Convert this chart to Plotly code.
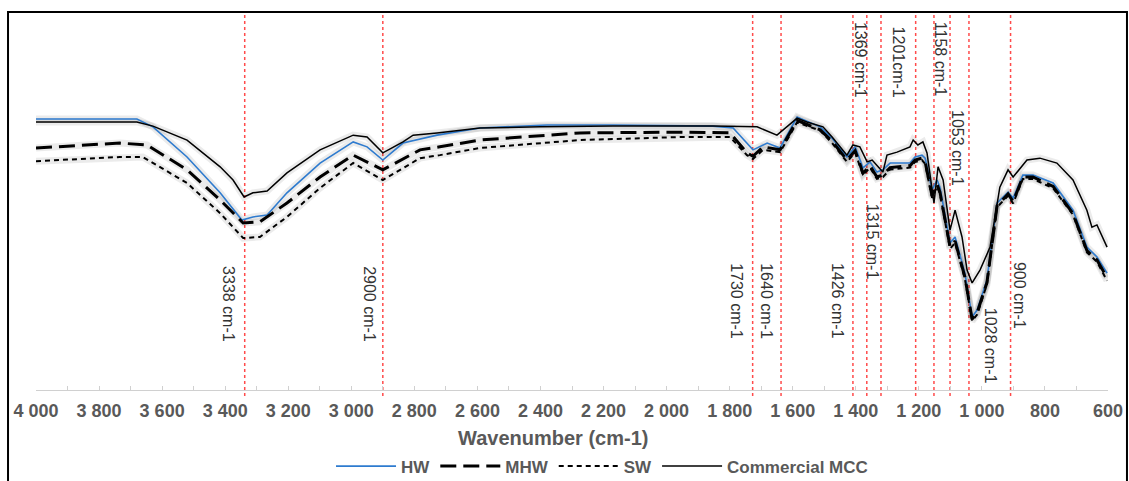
import plotly.graph_objects as go

# ---------------- data (wavenumber cm-1, transmittance %) ----------------
hw_x = [4000, 3680, 3629, 3521, 3416, 3347, 3312, 3267, 3204, 3099, 2994, 2950, 2900,
        2836, 2728, 2592, 2379, 2170, 1853, 1789, 1726, 1681, 1640, 1586, 1513, 1475,
        1428, 1402, 1377, 1355, 1333, 1314, 1291, 1228, 1212, 1190, 1180, 1158, 1142,
        1133, 1101, 1085, 1054, 1031, 1015, 984, 952, 917, 901, 870, 838, 774, 711,
        667, 635, 603]
hw_y = [71.9, 71.9, 69.8, 61.8, 52.3, 45.1, 45.9, 46.4, 52.3, 60.2, 65.8, 64.5, 61.0,
        65.5, 67.6, 69.5, 70.3, 70.3, 70.0, 69.5, 63.7, 65.5, 64.2, 72.4, 69.8, 66.8,
        61.8, 64.5, 58.9, 60.5, 57.8, 58.4, 60.2, 60.2, 61.8, 62.3, 61.5, 53.1, 55.7,
        53.8, 39.0, 40.6, 31.0, 19.4, 21.2, 29.2, 49.6, 52.5, 50.9, 57.0, 57.0, 54.9,
        47.7, 37.9, 35.3, 31.0]

mhw_x = [4000, 3734, 3648, 3521, 3416, 3343, 3290, 3204, 3099, 2994, 2900, 2782, 2719,
         2592, 2275, 1957, 1799, 1745, 1726, 1694, 1640, 1586, 1513, 1475, 1428, 1402,
         1377, 1355, 1333, 1314, 1291, 1228, 1212, 1190, 1180, 1158, 1142, 1133, 1101,
         1085, 1054, 1031, 1015, 984, 952, 917, 901, 870, 838, 774, 711, 667, 635, 603]
mhw_y = [64.2, 65.5, 65.0, 58.4, 50.4, 44.3, 44.6, 49.6, 56.5, 62.3, 58.4, 63.7, 64.5,
         66.3, 68.2, 68.4, 68.2, 62.9, 62.0, 64.5, 63.7, 71.5, 69.0, 66.0, 61.0, 63.5,
         57.5, 59.5, 56.5, 57.0, 59.0, 59.5, 61.0, 61.5, 60.5, 51.5, 54.5, 52.5, 38.0,
         39.5, 30.0, 18.8, 20.5, 28.5, 48.8, 52.0, 50.0, 56.5, 56.5, 54.0, 46.8, 37.0,
         34.5, 29.8]

sw_x = [4000, 3734, 3661, 3521, 3416, 3343, 3290, 3204, 3099, 2994, 2900, 2782, 2719,
        2592, 2275, 1957, 1799, 1745, 1726, 1694, 1640, 1586, 1513, 1475, 1428, 1402,
        1377, 1355, 1333, 1314, 1291, 1228, 1212, 1190, 1180, 1158, 1142, 1133, 1101,
        1085, 1054, 1031, 1015, 984, 952, 917, 901, 870, 838, 774, 711, 667, 635, 603]
sw_y = [60.7, 61.8, 61.8, 54.9, 46.9, 40.3, 40.6, 45.9, 53.6, 60.2, 55.7, 61.5, 62.3,
        64.2, 66.3, 67.1, 67.1, 62.3, 61.3, 63.7, 63.1, 71.0, 68.8, 65.5, 60.5, 63.0,
        57.0, 59.0, 56.0, 56.5, 58.5, 59.0, 60.5, 61.0, 60.0, 51.0, 54.0, 52.0, 37.5,
        39.0, 29.5, 18.3, 20.0, 28.0, 48.5, 51.5, 49.5, 56.0, 56.0, 53.5, 46.5, 36.5,
        34.0, 29.0]

mcc_x = [4000, 3680, 3629, 3521, 3416, 3375, 3340, 3312, 3267, 3204, 3099, 2994, 2950,
         2900, 2836, 2804, 2728, 2592, 2401, 2170, 1853, 1767, 1713, 1650, 1586, 1555,
         1504, 1475, 1450, 1428, 1409, 1387, 1364, 1348, 1329, 1314, 1301, 1269, 1228,
         1218, 1203, 1187, 1174, 1158, 1152, 1139, 1123, 1101, 1085, 1063, 1047, 1031,
         1006, 974, 943, 917, 901, 857, 816, 762, 711, 667, 651, 635, 603]
mcc_y = [71.1, 71.1, 70.0, 66.3, 59.2, 55.7, 51.2, 52.3, 52.8, 57.6, 63.7, 67.6, 67.1,
         62.9, 65.8, 67.6, 68.2, 69.5, 69.8, 70.0, 70.0, 69.8, 69.8, 67.6, 72.1, 71.1,
         69.8, 67.1, 64.5, 62.3, 65.0, 64.5, 60.5, 61.0, 59.2, 57.8, 62.3, 63.1, 64.5,
         66.3, 65.0, 65.8, 62.9, 53.8, 49.6, 59.2, 55.7, 42.4, 47.7, 40.6, 31.8, 28.4,
         31.8, 37.9, 53.8, 58.4, 56.5, 61.0, 61.5, 60.2, 55.7, 47.7, 43.2, 43.8, 37.9]

series_names = ["HW", "MHW", "SW", "Commercial MCC"]

# marked bands (drawn position, label text, label anchor)
band_lines = [3338, 2900, 1727, 1637, 1409, 1365, 1320, 1210, 1152, 1101, 1041, 909]
band_labels = ["3338 cm-1", "2900 cm-1", "1730 cm-1", "1640 cm-1", "1426 cm-1",
               "1315 cm-1", "1369 cm-1", "1201cm-1", "1158 cm-1", "1053 cm-1",
               "1028 cm-1", "900 cm-1"]
label_x = [3388, 2941, 1777, 1682, 1456, 1348, 1387, 1266, 1133, 1079, 974, 879]
label_y = [22.8, 22.8, 23.6, 23.6, 23.6, 39.3, 87.6, 87.1, 87.6, 64.2, 11.7, 25.2]

tick_vals = [4000, 3800, 3600, 3400, 3200, 3000, 2800, 2600, 2400, 2200, 2000,
             1800, 1600, 1400, 1200, 1000, 800, 600]
tick_text = ["4 000", "3 800", "3 600", "3 400", "3 200", "3 000", "2 800", "2 600",
             "2 400", "2 200", "2 000", "1 800", "1 600", "1 400", "1 200", "1 000",
             "800", "600"]

# ---------------- figure ----------------
fig = go.Figure()

data = [(hw_x, hw_y), (mhw_x, mhw_y), (sw_x, sw_y), (mcc_x, mcc_y)]
styles = [dict(color="#2E7BCF", width=1.6, dash="solid"),
          dict(color="black", width=3, dash="16px,7px"),
          dict(color="black", width=2, dash="5px,4px"),
          dict(color="black", width=1.5, dash="solid")]

# soft shadow under the curves
for (xs, ys) in data:
    fig.add_trace(go.Scatter(x=xs, y=ys, mode="lines", showlegend=False, hoverinfo="skip",
                             line=dict(color="rgba(0,0,0,0.08)", width=7)))

for name, (xs, ys), st in zip(series_names, data, styles):
    fig.add_trace(go.Scatter(x=xs, y=ys, mode="lines", name=name, line=st))

for xv in band_lines:
    fig.add_shape(type="line", xref="x", yref="paper", x0=xv, x1=xv, y0=-0.016, y1=1,
                  line=dict(color="rgba(255,30,30,0.8)", width=1.5, dash="dot"), layer="below")

for txt, xv, yv in zip(band_labels, label_x, label_y):
    fig.add_annotation(x=xv, y=yv, xref="x", yref="y", text=txt, showarrow=False,
                       textangle=90, font=dict(family="Liberation Sans", size=16, color="#333333"))

# outer frame
fig.add_shape(type="rect", xref="paper", yref="paper", x0=-0.0261, x1=1.0177, y0=-0.35, y1=1.0027,
              line=dict(color="black", width=2), fillcolor="rgba(0,0,0,0)")

fig.add_annotation(x=0.482, y=-0.127, xref="paper", yref="paper", text="Wavenumber (cm-1)",
                   showarrow=False, yanchor="middle",
                   font=dict(family="Liberation Sans", size=20, color="#595959", weight="bold"))

fig.update_layout(
    width=1129, height=481,
    margin=dict(l=36, r=21, t=13, b=91, autoexpand=False),
    paper_bgcolor="white", plot_bgcolor="white",
    showlegend=True,
    legend=dict(orientation="h", x=0.528, xanchor="center",
                yref="container", y=0.03, yanchor="middle",
                font=dict(family="Liberation Sans", size=17, color="#595959", weight="bold"),
                itemwidth=60, bgcolor="rgba(0,0,0,0)"),
    xaxis=dict(range=[4000, 600], tickvals=tick_vals, ticktext=tick_text,
               showgrid=False, zeroline=False, showline=True, linecolor="#D0D0D0", linewidth=1.2,
               ticks="inside", ticklen=4, tickcolor="#D0D0D0",
               minor=dict(dtick=100, ticks="inside", ticklen=4, tickcolor="#D0D0D0"),
               tickfont=dict(family="Liberation Sans", size=18, color="#595959", weight="bold"),
               ticklabelstandoff=4),
    yaxis=dict(range=[0, 100], visible=False),
)

fig.write_html("out.html")
